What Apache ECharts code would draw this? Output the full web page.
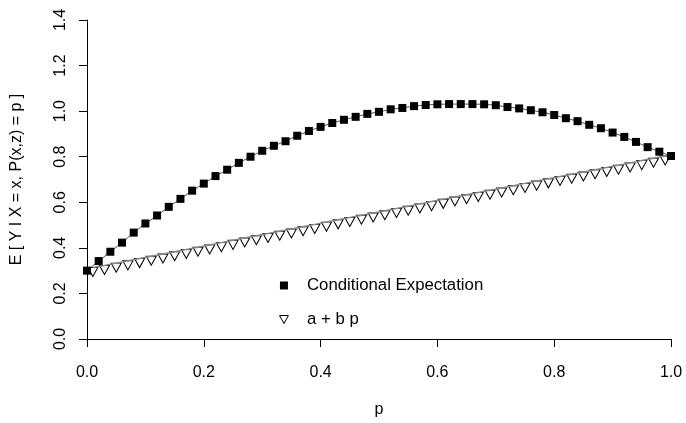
<!DOCTYPE html>
<html>
<head>
<meta charset="utf-8">
<script src="https://cdn.jsdelivr.net/npm/echarts@6/dist/echarts.min.js"></script>
<style>
  html, body { margin: 0; padding: 0; background: #fff; }
  #main { width: 686px; height: 423px; }
</style>
</head>
<body>
<div id="main"></div>
<script>
// p 网格（方块：条件期望）
var condP = [0, 0.02, 0.04, 0.06, 0.08, 0.10, 0.12, 0.14, 0.16, 0.18,
    0.20, 0.22, 0.24, 0.26, 0.28, 0.30, 0.32, 0.34, 0.36, 0.38,
    0.40, 0.42, 0.44, 0.46, 0.48, 0.50, 0.52, 0.54, 0.56, 0.58,
    0.60, 0.62, 0.64, 0.66, 0.68, 0.70, 0.72, 0.74, 0.76, 0.78,
    0.80, 0.82, 0.84, 0.86, 0.88, 0.90, 0.92, 0.94, 0.96, 0.98, 1.00];
var condValues = [0.300, 0.342, 0.383, 0.423, 0.467, 0.507, 0.542, 0.580, 0.615, 0.651,
    0.682, 0.715, 0.743, 0.773, 0.800, 0.826, 0.848, 0.868, 0.892, 0.913,
    0.931, 0.948, 0.962, 0.975, 0.988, 0.997, 1.008, 1.014, 1.022, 1.027,
    1.030, 1.031, 1.031, 1.031, 1.030, 1.026, 1.018, 1.012, 1.004, 0.995,
    0.983, 0.969, 0.956, 0.940, 0.925, 0.906, 0.887, 0.865, 0.842, 0.822, 0.803];

// p 网格（三角：a + b p）
var linP = [0.01, 0.03, 0.05, 0.07, 0.09, 0.11, 0.13, 0.15, 0.17, 0.19,
    0.21, 0.23, 0.25, 0.27, 0.29, 0.31, 0.33, 0.35, 0.37, 0.39,
    0.41, 0.43, 0.45, 0.47, 0.49, 0.51, 0.53, 0.55, 0.57, 0.59,
    0.61, 0.63, 0.65, 0.67, 0.69, 0.71, 0.73, 0.75, 0.77, 0.79,
    0.81, 0.83, 0.85, 0.87, 0.89, 0.91, 0.93, 0.95, 0.97, 0.99];
var linValues = [0.314, 0.323, 0.333, 0.343, 0.353, 0.363, 0.373, 0.383, 0.393, 0.403,
    0.413, 0.423, 0.433, 0.443, 0.453, 0.463, 0.473, 0.483, 0.493, 0.503,
    0.513, 0.523, 0.533, 0.543, 0.553, 0.563, 0.573, 0.583, 0.593, 0.603,
    0.613, 0.623, 0.633, 0.643, 0.653, 0.663, 0.673, 0.683, 0.693, 0.703,
    0.713, 0.723, 0.733, 0.743, 0.753, 0.763, 0.773, 0.783, 0.793, 0.803];

var seriesNames = ['Conditional Expectation', 'a + b p'];

function pairs(xs, ys) {
    return xs.map(function (x, i) { return [x, ys[i]]; });
}

var FONT = "'Liberation Sans', Arial, Helvetica, sans-serif";
var triPath = 'path://M0,0L10,0L5,9Z';
var sqPath = 'path://M0,0L10,0L10,10L0,10Z';

var myChart = echarts.init(document.getElementById('main'), null, { renderer: 'canvas' });
myChart.setOption({
    animation: false,
    backgroundColor: '#fff',
    textStyle: { fontFamily: FONT },
    grid: { left: 87, right: 15, top: 20, bottom: 82, containLabel: false },
    legend: {
        orient: 'vertical',
        left: 279,
        top: 277,
        padding: 0,
        itemWidth: 36,
        itemHeight: 8,
        itemGap: 17,
        selectedMode: false,
        textStyle: { fontSize: 16.8, color: '#000', fontFamily: FONT },
        data: [
            { name: seriesNames[0], icon: sqPath, itemStyle: { color: '#000', borderWidth: 0 } },
            { name: seriesNames[1], icon: triPath, itemStyle: { color: '#fff', borderColor: '#000', borderWidth: 1 } }
        ]
    },
    xAxis: {
        type: 'value',
        min: 0, max: 1, interval: 0.2,
        name: 'p',
        nameLocation: 'middle',
        nameGap: 63,
        nameTextStyle: { fontSize: 16, color: '#000', fontFamily: FONT },
        axisLine: { onZero: false, lineStyle: { color: '#000', width: 1 } },
        axisTick: { length: 8, lineStyle: { color: '#000' } },
        axisLabel: {
            fontSize: 16, color: '#000', margin: 26,
            formatter: function (v) { return v.toFixed(1); }
        },
        splitLine: { show: false }
    },
    yAxis: {
        type: 'value',
        min: 0, max: 1.4, interval: 0.2,
        name: 'E [ Y I X = x, P(x,z) = p ]',
        nameLocation: 'middle',
        nameGap: 62,
        nameTextStyle: { fontSize: 16, color: '#000', fontFamily: FONT },
        axisLine: { show: true, onZero: false, lineStyle: { color: '#000', width: 1 } },
        axisTick: { show: true, length: 8, lineStyle: { color: '#000' } },
        axisLabel: {
            fontSize: 16, color: '#000', margin: 18, rotate: 90,
            formatter: function (v) { return v.toFixed(1); }
        },
        splitLine: { show: false }
    },
    series: [
        {
            // 条件期望：细线 + 实心方块
            name: seriesNames[0],
            type: 'line',
            data: pairs(condP, condValues),
            symbol: 'rect',
            symbolSize: 8,
            showAllSymbol: true,
            itemStyle: { color: '#000' },
            lineStyle: { color: '#555', width: 1 },
            z: 3
        },
        {
            // a + b p：空心倒三角（挂在灰线下方）
            name: seriesNames[1],
            type: 'line',
            data: pairs(linP, linValues),
            symbol: triPath,
            symbolSize: [10, 9],
            symbolOffset: [0, 4.5],
            showAllSymbol: true,
            itemStyle: { color: '#fff', borderColor: '#000', borderWidth: 1 },
            lineStyle: { width: 0, opacity: 0 },
            z: 2
        },
        {
            // 灰色直线，压在三角形上沿
            type: 'line',
            data: pairs(linP, linValues),
            symbol: 'none',
            lineStyle: { color: '#888', width: 1.5 },
            silent: true,
            z: 4
        }
    ]
});
</script>
</body>
</html>
